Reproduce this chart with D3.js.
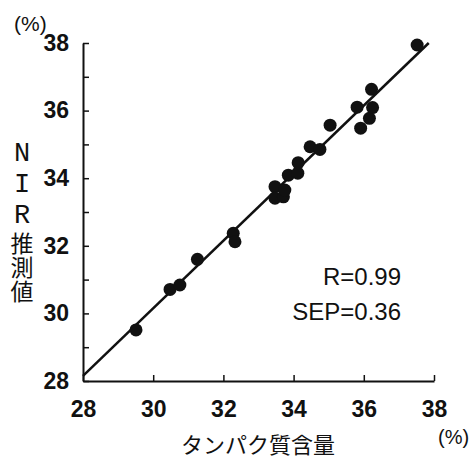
<!DOCTYPE html>
<html>
<head>
<meta charset="utf-8">
<script src="https://cdn.jsdelivr.net/npm/d3@7"></script>
<style>
  body { margin: 0; background: #fff; }
  svg text { fill: #111; }
</style>
</head>
<body>
<div id="chart"></div>
<script>
// reference protein content (x) vs NIR estimate (y), in %
const refX = [29.51, 30.48, 30.76, 31.26, 32.28, 32.33, 33.47, 33.47, 33.71, 33.75, 33.85, 34.12, 34.13, 34.47, 34.75, 35.04, 35.81, 35.91, 36.16, 36.22, 36.25, 37.52];
const nirY = [29.51, 30.71, 30.84, 31.60, 32.37, 32.12, 33.75, 33.41, 33.45, 33.65, 34.09, 34.15, 34.46, 34.93, 34.85, 35.57, 36.10, 35.48, 35.77, 36.63, 36.09, 37.94];
const fitX = [28, 37.85];
const fitY = [28.15, 38.0];
const xTicks = [28, 30, 32, 34, 36, 38];
const yTicks = [28, 29, 30, 31, 32, 33, 34, 35, 36, 37, 38];
const stats = ['R=0.99', 'SEP=0.36'];
const xTitle = 'タンパク質含量';
const yTitle = ['N', 'I', 'R', '推', '測', '値'];

const width = 470;
const height = 460;
const margin = {left: 83, right: 36, top: 43, bottom: 79};

const svg = d3.select('#chart').append('svg')
    .attr('width', width).attr('height', height);

const x = d3.scaleLinear().domain([28, 38]).range([margin.left, width - margin.right]);
const y = d3.scaleLinear().domain([28, 38]).range([height - margin.bottom, margin.top]);

const numFont = '"Liberation Sans", Arial, sans-serif';
const cjkFont = '"Noto Sans CJK JP", sans-serif';

// axes, ticks pointing inward
const xAxis = svg.append('g')
    .attr('transform', `translate(0,${y(28)})`)
    .call(d3.axisBottom(x).tickValues(xTicks).tickSize(-6).tickSizeOuter(0).tickPadding(20));
const yAxis = svg.append('g')
    .attr('transform', `translate(${x(28)},0)`)
    .call(d3.axisLeft(y).tickValues(yTicks).tickSize(-6).tickSizeOuter(0).tickPadding(14)
        .tickFormat(d => d % 2 === 0 ? d : ''));

[xAxis, yAxis].forEach(g => {
    g.select('.domain').attr('stroke', '#111').attr('stroke-width', 2);
    g.selectAll('.tick line').attr('stroke', '#111').attr('stroke-width', 1.5);
    g.selectAll('.tick text')
        .attr('font-family', numFont).attr('font-weight', 'bold')
        .attr('font-size', 23).attr('fill', '#111');
});

// regression line
svg.append('line')
    .attr('x1', x(fitX[0])).attr('y1', y(fitY[0]))
    .attr('x2', x(fitX[1])).attr('y2', y(fitY[1]))
    .attr('stroke', '#111').attr('stroke-width', 2.5);

// points
svg.append('g').selectAll('circle')
    .data(refX.map((v, i) => [v, nirY[i]]))
    .enter()
    .append('circle')
    .attr('cx', d => x(d[0]))
    .attr('cy', d => y(d[1]))
    .attr('r', 6.5)
    .attr('fill', '#111');

// statistics
svg.append('g').selectAll('text')
    .data(stats)
    .enter()
    .append('text')
    .attr('x', 401)
    .attr('y', (d, i) => 285 + i * 35)
    .attr('text-anchor', 'end')
    .attr('font-family', numFont)
    .attr('font-size', 24)
    .text(d => d);

// unit labels
svg.append('text')
    .attr('x', 14).attr('y', 31)
    .attr('font-family', numFont).attr('font-size', 21)
    .text('(%)');
svg.append('text')
    .attr('x', 438).attr('y', 444)
    .attr('font-family', numFont).attr('font-size', 20)
    .text('(%)');

// axis titles
svg.append('text')
    .attr('x', 258).attr('y', 453)
    .attr('text-anchor', 'middle')
    .attr('font-family', cjkFont).attr('font-size', 22)
    .text(xTitle);

// vertical title as one text, letters upright
svg.append('text')
    .attr('x', 22).attr('y', 139)
    .attr('font-family', cjkFont).attr('font-size', 23)
    .style('writing-mode', 'vertical-rl')
    .style('text-orientation', 'upright')
    .style('letter-spacing', '1px')
    .selectAll('tspan')
    .data(yTitle)
    .enter()
    .append('tspan')
    .attr('font-family', d => /[A-Z]/.test(d) ? '"Liberation Mono", monospace' : cjkFont)
    .attr('font-size', d => /[A-Z]/.test(d) ? 27 : 23)
    .text(d => d);
</script>
</body>
</html>
